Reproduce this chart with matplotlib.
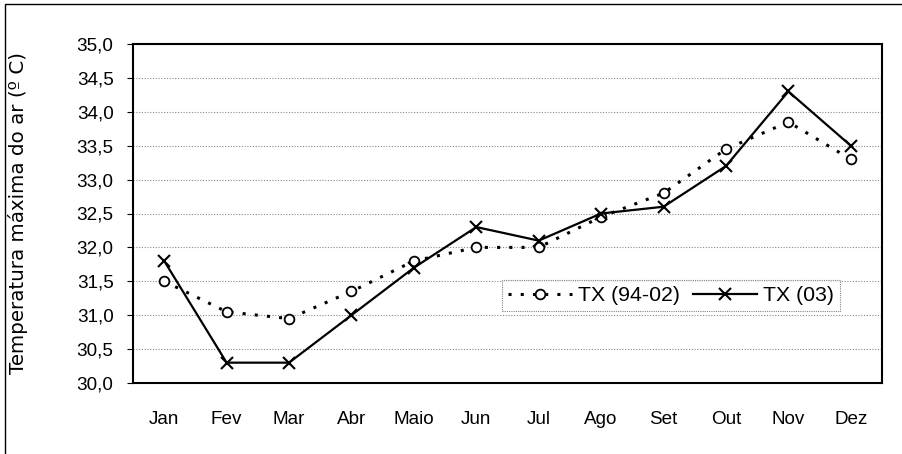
import matplotlib
matplotlib.use('Agg')
import matplotlib.pyplot as plt
from matplotlib.patches import Rectangle
from matplotlib import font_manager

# --- Data ---
months = ['Jan', 'Fev', 'Mar', 'Abr', 'Maio', 'Jun', 'Jul', 'Ago', 'Set', 'Out', 'Nov', 'Dez']
tx_94_02 = [31.5, 31.05, 30.95, 31.35, 31.8, 32.0, 32.0, 32.45, 32.8, 33.45, 33.85, 33.3]
tx_03 = [31.8, 30.3, 30.3, 31.0, 31.7, 32.3, 32.1, 32.5, 32.6, 33.2, 34.3, 33.5]
yticks = [30.0, 30.5, 31.0, 31.5, 32.0, 32.5, 33.0, 33.5, 34.0, 34.5, 35.0]

# narrow face if present, else plain Liberation Sans
names = {f.name for f in font_manager.fontManager.ttflist}
narrow = 'Liberation Sans Narrow' if 'Liberation Sans Narrow' in names else 'Liberation Sans'
plt.rcParams['font.family'] = [narrow, 'DejaVu Sans']
scale = 1.0 if narrow == 'Liberation Sans Narrow' else 0.85

fig = plt.figure(figsize=(9.03, 4.54), dpi=100)
ax = fig.add_axes([133/903, 1 - 383/454, (882-133)/903, (383-44)/454])

x = list(range(len(months)))
ax.plot(x, tx_94_02, color='black', linestyle=(0, (1, 3)), linewidth=2.2,
        marker='o', markersize=7, markerfacecolor='white', markeredgecolor='black',
        markeredgewidth=1.3, label='TX (94-02)')
ax.plot(x, tx_03, color='black', linestyle='-', linewidth=1.6,
        marker='x', markersize=9, markeredgewidth=1.5, label='TX (03)')

ax.set_xlim(-0.5, len(months) - 0.5)
ax.set_ylim(30, 35)
ax.set_xticks(x)
ax.set_xticklabels(months, fontsize=16 * scale)
ax.set_yticks(yticks)
ax.set_yticklabels([f'{v:.1f}'.replace('.', ',') for v in yticks], fontsize=16 * scale)
ax.tick_params(axis='x', length=0, pad=20)
ax.tick_params(axis='y', length=4, direction='out', pad=10)

ax.grid(axis='y', color='#888888', linestyle=(0, (1, 1.5)), linewidth=0.8)
ax.set_axisbelow(True)
for s in ax.spines.values():
    s.set_linewidth(1.5)
    s.set_color('black')

ax.set_ylabel('Temperatura máxima do ar (º C)', fontsize=14.3, family='DejaVu Sans')
ax.yaxis.set_label_coords(-0.140, 0.5)

leg = ax.legend(loc='upper left', bbox_to_anchor=((491-133)/749, (383-269)/339),
                ncol=2, frameon=True, prop={'size': 18 * scale}, handlelength=3.0,
                columnspacing=0.6, handletextpad=0.3, borderpad=0.3,
                fancybox=False, edgecolor='#666666')
leg.get_frame().set_linestyle((0, (1, 1)))
leg.get_frame().set_linewidth(0.8)

# outer frame
fig.patches.append(Rectangle((5/903, -0.05), 1.2, 1.05 - 4/454, transform=fig.transFigure,
                             fill=False, edgecolor='black', linewidth=1.0))

fig.savefig('out.png', dpi=100)
